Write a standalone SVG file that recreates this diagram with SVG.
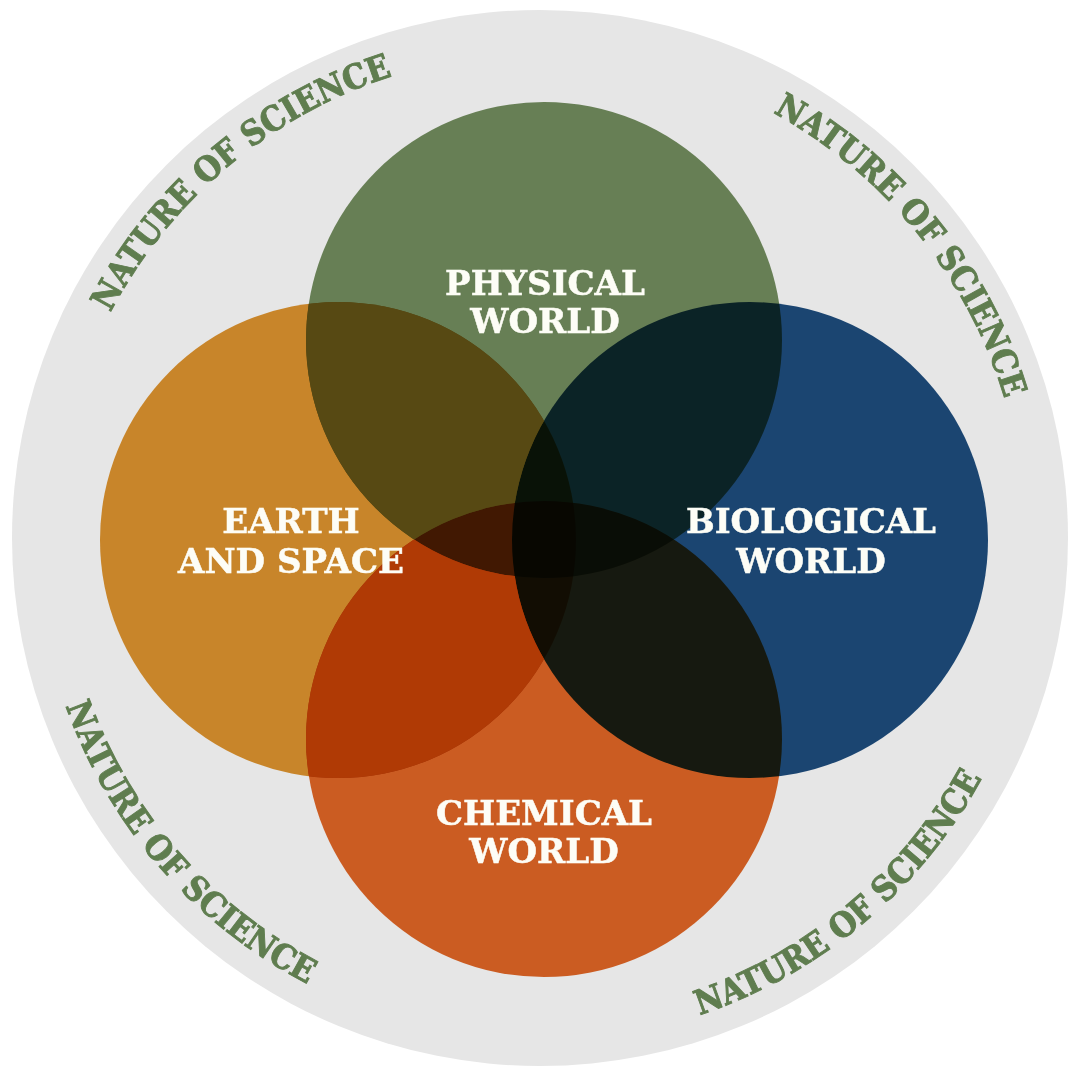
<svg xmlns="http://www.w3.org/2000/svg" width="1068" height="1069" viewBox="0 0 1068 1069">
<style>
.lbl{font-family:'DejaVu Serif','Liberation Serif',serif;font-weight:bold;font-size:34px;fill:#fdfdf6;stroke:#fdfdf6;stroke-width:0.5;text-anchor:middle}
.nos{font-family:'DejaVu Serif Condensed','DejaVu Serif',serif;font-weight:bold;font-size:34px;fill:#5f7d4f;stroke:#5f7d4f;stroke-width:0.9;text-anchor:middle}
.c{mix-blend-mode:multiply}
</style>
<defs>
<path id="arcTL" d="M56.8,495.7 A485,485 0 0,1 582.3,54.8"/>
<path id="arcTR" d="M590.7,55.7 A485,485 0 0,1 1022.3,588.7"/>
<path id="arcBL" d="M38.1,502.9 A503,503 0 0,0 504.9,1039.8"/>
<path id="arcBR" d="M496.2,1039.1 A503,503 0 0,0 1041.1,581.8"/>
<clipPath id="cpEarth"><circle cx="338" cy="540" r="238"/></clipPath>
<mask id="mEC" maskUnits="userSpaceOnUse" x="0" y="0" width="1068" height="1069">
<circle cx="544" cy="739" r="238" fill="#fff" clip-path="url(#cpEarth)"/>
<circle cx="544" cy="340" r="238" fill="#000"/>
<circle cx="750" cy="540" r="238" fill="#000"/>
</mask>
<mask id="mEP" maskUnits="userSpaceOnUse" x="0" y="0" width="1068" height="1069">
<circle cx="544" cy="340" r="238" fill="#fff" clip-path="url(#cpEarth)"/>
<circle cx="544" cy="739" r="238" fill="#000"/>
<circle cx="750" cy="540" r="238" fill="#000"/>
</mask>
</defs>
<rect width="1068" height="1069" fill="#ffffff"/>
<g id="nature-of-science">
<circle cx="540" cy="538" r="528" fill="#e6e6e6"/>
<text class="nos"><textPath href="#arcTL" startOffset="50%">NATURE OF SCIENCE</textPath></text>
<text class="nos"><textPath href="#arcTR" startOffset="50%">NATURE OF SCIENCE</textPath></text>
<text class="nos"><textPath href="#arcBL" startOffset="50%">NATURE OF SCIENCE</textPath></text>
<text class="nos"><textPath href="#arcBR" startOffset="50%">NATURE OF SCIENCE</textPath></text>
</g>
<g id="circles" style="isolation:isolate">
<circle id="physical" class="c" cx="544" cy="340" r="238" fill="#677f55"/>
<circle id="earth" class="c" cx="338" cy="540" r="238" fill="#c8852a"/>
<circle id="biological" class="c" cx="750" cy="540" r="238" fill="#1b4571"/>
<circle id="chemical" class="c" cx="544" cy="739" r="238" fill="#cb5c22"/>
</g>
<g id="overlaps">
<rect width="1068" height="1069" fill="#b03a05" mask="url(#mEC)"/>
<rect width="1068" height="1069" fill="#574913" mask="url(#mEP)"/>
</g>
<g id="labels">
<g id="label-physical"><text class="lbl" x="545" y="295">PHYSICAL</text><text class="lbl" x="545" y="333">WORLD</text></g>
<g id="label-earth"><text class="lbl" x="291" y="533">EARTH</text><text class="lbl" x="291" y="573">AND SPACE</text></g>
<g id="label-biological"><text class="lbl" x="811" y="533">BIOLOGICAL</text><text class="lbl" x="811" y="573">WORLD</text></g>
<g id="label-chemical"><text class="lbl" x="544" y="825">CHEMICAL</text><text class="lbl" x="544" y="863">WORLD</text></g>
</g>
</svg>
